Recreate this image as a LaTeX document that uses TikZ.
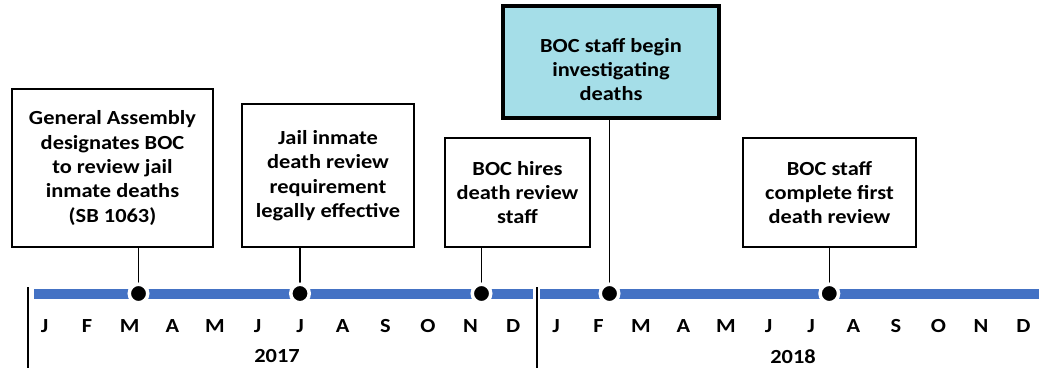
\documentclass[tikz,border=0pt]{standalone}
\usepackage{fontspec}
\setmainfont{Carlito}[FakeStretch=1.12]
\definecolor{barblue}{HTML}{4472C4}
\definecolor{boxcyan}{HTML}{A5DEE8}

\begin{document}
\begin{tikzpicture}[x=1pt, y=-1pt, font=\bfseries\fontsize{20}{24.4}\selectfont]
        \tikzstyle{event}=[draw, line width=1.5pt, align=center, inner sep=0pt]
        \tikzstyle{dot}=[circle, fill=black, draw=white, line width=3.5pt, minimum size=18.5pt, inner sep=0pt]
        \tikzstyle{month}=[inner sep=0pt]
        \useasboundingbox (0,0) rectangle (1044,368);
        % timeline bar and year dividers
        \coordinate (bar1w) at (34,293.5);
        \coordinate (bar1e) at (533,293.5);
        \coordinate (bar2w) at (540,293.5);
        \coordinate (bar2e) at (1039,293.5);
        \draw[barblue, line width=10pt] (bar1w) -- (bar1e);
        \draw[barblue, line width=10pt] (bar2w) -- (bar2e);
        \coordinate (div1t) at (28,287);
        \coordinate (div1b) at (28,368);
        \coordinate (div2t) at (537,287);
        \coordinate (div2b) at (537,368);
        \draw[line width=2pt] (div1t) -- (div1b);
        \draw[line width=2pt] (div2t) -- (div2b);
        % events
        \node [event, minimum width=201pt, minimum height=158pt] (ev1) at (112.5,168) {General Assembly\\designates BOC\\to review jail\\inmate deaths\\(SB 1063)};
        \node [event, minimum width=172pt, minimum height=143pt] (ev2) at (328,175.5) {Jail inmate\\death review\\requirement\\legally effective};
        \node [event, minimum width=145pt, minimum height=109pt] (ev3) at (517.5,192.5) {BOC hires\\death review\\staff};
        \node [event, line width=3.5pt, fill=boxcyan, minimum width=216pt, minimum height=112pt] (ev4) at (611,62) {\rule{0pt}{29pt}BOC staff begin\\investigating\\deaths};
        \node [event, minimum width=173pt, minimum height=109pt] (ev5) at (829.5,192.5) {BOC staff\\complete first\\death review};
        \coordinate (m1) at (138.5,293.5);
        \coordinate (m2) at (300,293.5);
        \coordinate (m3) at (481.5,293.5);
        \coordinate (m4) at (609.5,293.5);
        \coordinate (m5) at (829.3,293.5);
        \foreach \k in {1,...,5} {
            \draw[line width=1.5pt] (ev\k.south -| m\k) -- (m\k);
            \node [dot] (d\k) at (m\k) {};
        }
        % months and years
        \foreach \m [count=\i from 0] in {J,F,M,A,M,J,J,A,S,O,N,D} {
            \node [month] (a\i) at (44.5+42.6*\i,326.5) {\m};
            \node [month] (b\i) at (556+42.5*\i,326.5) {\m};
        }
        \node [month] (y17) at (277,356.5) {2017};
        \node [month] (y18) at (793,356.5) {2018};
    \end{tikzpicture}
\end{document}
